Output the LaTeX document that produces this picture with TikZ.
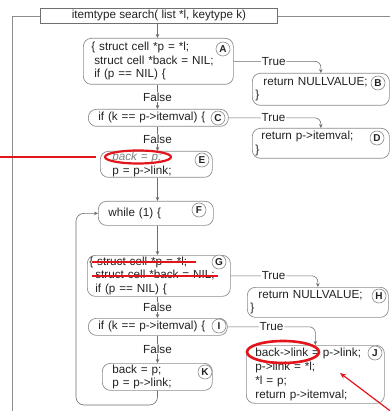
\documentclass[tikz,border=0pt]{standalone}
\usepackage{fontspec}
\setmainfont{Liberation Sans}
\usetikzlibrary{arrows.meta,shapes.geometric}
\definecolor{ink}{HTML}{222222}
\definecolor{frame}{HTML}{8C8C8C}
\definecolor{wire}{HTML}{6E6E6E}
\definecolor{redpen}{HTML}{E3141B}
\begin{document}
\begin{tikzpicture}[x=1pt,y=-1pt,
  codefont/.style={font=\fontsize{11.7}{13.5}\selectfont},
  codebox/.style={draw=frame, line width=0.7pt, rounded corners=8pt,
    anchor=north west, align=left, inner ysep=0pt, codefont, text=ink},
  titlebox/.style={draw=frame!80!black, line width=0.9pt, anchor=north west,
    inner sep=0pt, minimum width=237pt, minimum height=15pt, codefont, text=ink},
  tag/.style={circle, draw=frame, line width=0.6pt, fill=white, inner sep=0pt,
    minimum size=14pt, font=\fontsize{10}{10}\selectfont\bfseries, text=ink},
  flow/.style={draw=wire, line width=0.6pt, -{Stealth[length=4pt,width=3.6pt]}},
  rail/.style={draw=frame, line width=0.7pt},
  lbl/.style={fill=white, inner sep=0.8pt, codefont, text=ink},
  oval/.style={ellipse, draw=redpen, inner sep=0pt},
  strike/.style={draw=redpen, line width=1.1pt}
]
\clip (0,0) rectangle (390,411);
\fill[white] (0,0) rectangle (390,411);

% function header and its frame rails
\node[titlebox] (T) at (40,8) {itemtype search( list *l, keytype k)};
\coordinate (railL) at (12,411);
\coordinate (railR) at (392,0);
\draw[rail] (T.west) -| (railL);
\draw[rail] (T.east) -- (T.east -| railR);

% code blocks
\node[codebox, inner xsep=8pt, text width=134pt, minimum height=46pt] (A) at (83,38)
  {\{ struct cell *p = *l;\\\hspace*{3pt}struct cell *back = NIL;\\\hspace*{3pt}if (p == NIL) \{};
\node[codebox, inner xsep=3pt, text width=131pt, minimum height=32pt] (B) at (252,73)
  {\hspace*{8pt}return NULLVALUE;\\\}};
\node[codebox, inner xsep=10pt, text width=120pt, minimum height=17pt] (C) at (88,109)
  {if (k == p->itemval) \{};
\node[codebox, inner xsep=3pt, text width=131pt, minimum height=30pt] (D) at (252,128)
  {\hspace*{6pt}return p->itemval;\\\}};
\node[codebox, inner xsep=12pt, text width=88pt, minimum height=26pt] (E) at (100,151)
  {{\color{gray}\itshape back = p;}\\p = p->link;};
\node[codebox, inner xsep=10pt, text width=95pt, minimum height=24pt] (F) at (98,201)
  {while (1) \{};
\node[codebox, inner xsep=2pt, text width=139pt, minimum height=41pt] (G) at (87,255)
  {\{ struct cell *p = *l;\\\hspace*{6pt}struct cell *back = NIL;\\\hspace*{6pt}if (p == NIL) \{};
\node[codebox, inner xsep=3pt, text width=135pt, minimum height=30pt] (H) at (247,287)
  {\hspace*{8pt}return NULLVALUE;\\\}};
\node[codebox, inner xsep=10pt, text width=119pt, minimum height=17pt] (I) at (88,318)
  {if (k == p->itemval) \{};
\node[codebox, inner xsep=9pt, text width=120pt, minimum height=58pt,
  font=\fontsize{11.7}{14.2}\selectfont] (J) at (246,345)
  {back->link = p->link;\\{}p->link = *l;\\{}*l = p;\\{}return p->itemval;};
\node[codebox, inner xsep=10pt, text width=90pt, minimum height=27pt] (K) at (102,363)
  {back = p;\\p = p->link;};

% block tags
\node[tag] (tA) at (223,49) {A};
\node[tag] (tB) at (378,83) {B};
\node[tag] (tC) at (218,118) {C};
\node[tag] (tD) at (377,138) {D};
\node[tag] (tE) at (202,160) {E};
\node[tag] (tF) at (199,210) {F};
\node[tag] (tG) at (219,262) {G};
\node[tag] (tH) at (379,296) {H};
\node[tag] (tI) at (219,326) {I};
\node[tag] (tJ) at (375,353) {J};
\node[tag] (tK) at (205,372) {K};

% main control flow
\coordinate (trunk) at (157.5,0);
\draw[flow] (T.south -| trunk) -- (A.north -| trunk);
\draw[flow] (A.south -| trunk) -- node[lbl] {False} (C.north -| trunk);
\draw[flow] (C.south -| trunk) -- node[lbl] {False} (E.north -| trunk);
\draw[flow] (E.south -| trunk) -- (F.north -| trunk);
\draw[flow] (F.south -| trunk) -- (G.north -| trunk);
\draw[flow] (G.south -| trunk) -- node[lbl] {False} (I.north -| trunk);
\draw[flow] (I.south -| trunk) -- node[lbl] {False} (K.north -| trunk);

% loop back to the while
\coordinate (loopL) at (76,405);
\draw[flow, rounded corners=8pt] (K.south -| trunk) |- (loopL) |- (F.west);

% true branches
\draw[flow, rounded corners=6pt] (A.east) -| node[lbl, pos=0.23] {True} (B.north);
\draw[flow, rounded corners=6pt] (C.east) -| node[lbl, pos=0.243] {True} (D.north);
\draw[flow, rounded corners=6pt] (G.east) -| node[lbl, pos=0.246] {True} (H.north);
\draw[flow, rounded corners=6pt] (I.east) -| node[lbl, pos=0.25] {True} (J.north);

% red pen marks
\node[oval, line width=2.2pt, minimum width=66pt, minimum height=13pt] (ovalE) at (138,157) {};
\coordinate (hintE) at (0,157);
\draw[redpen, line width=2.4pt] (hintE) -- ([xshift=-8pt]ovalE.west);
\draw[strike] (92,262) -- (196,262);
\draw[strike] (92,276) -- (218,276);
\node[oval, line width=2.6pt, minimum width=72pt, minimum height=22pt] (ovalJ) at (283,352) {};
\coordinate (tailJ) at (393,413);
\coordinate (tipJ) at (340,373);
\draw[redpen, line width=1.2pt, -{Stealth[length=6pt,width=5pt]}] (tailJ) -- (tipJ);
\end{tikzpicture}
\end{document}
